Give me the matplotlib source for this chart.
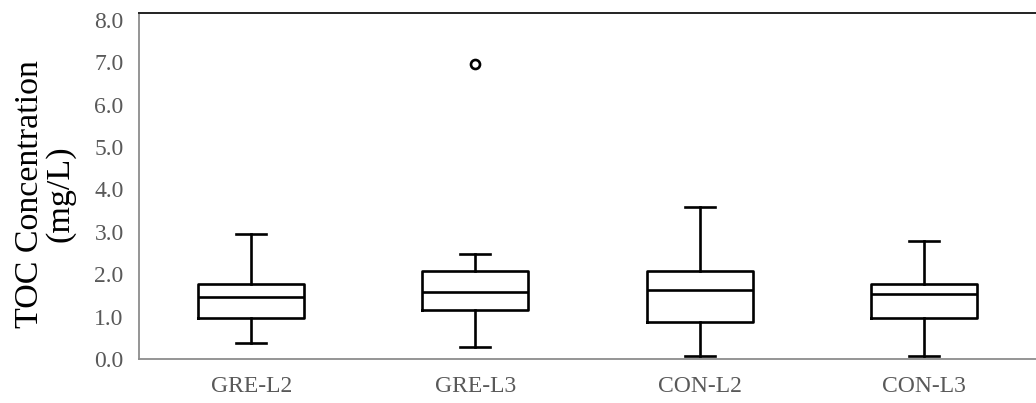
# -*- coding: utf-8 -*-

import matplotlib
matplotlib.use("Agg")
import matplotlib.pyplot as plt

grupos = ["GRE-L2", "GRE-L3", "CON-L2", "CON-L3"]

# resumo de cada caixa (mg/L)
minimo = [0.37, 0.29, 0.08, 0.08]
q1 = [0.97, 1.16, 0.87, 0.96]
mediana = [1.46, 1.58, 1.63, 1.53]
q3 = [1.77, 2.08, 2.08, 1.77]
maximo = [2.95, 2.48, 3.58, 2.78]
outliers = [[], [6.96], [], []]

stats = []
for i in range(len(grupos)):
    stats.append({
        "label": grupos[i],
        "whislo": minimo[i],
        "q1": q1[i],
        "med": mediana[i],
        "q3": q3[i],
        "whishi": maximo[i],
        "fliers": outliers[i],
    })

plt.rcParams["font.family"] = ["Liberation Serif", "DejaVu Serif"]

fig = plt.figure(figsize=(10.36, 4.03), dpi=100)
ax = fig.add_axes([139/1036, 1 - 359/403, 1 - 139/1036, (359 - 13)/403])

lw = 1.9
ax.bxp(stats, positions=[1, 2, 3, 4], widths=0.473, capwidths=0.134,
       boxprops=dict(color="black", linewidth=lw),
       medianprops=dict(color="black", linewidth=lw),
       whiskerprops=dict(color="black", linewidth=lw),
       capprops=dict(color="black", linewidth=lw),
       flierprops=dict(marker="o", markersize=6.5, markerfacecolor="none",
                       markeredgecolor="black", markeredgewidth=1.9))

ax.set_xlim(0.5, 4.5)
ax.set_ylim(0, 8.16)
ax.set_yticks([0, 1, 2, 3, 4, 5, 6, 7, 8])
ax.set_yticklabels(["%.1f" % v for v in range(9)])

ax.tick_params(axis="both", length=0, labelsize=17, labelcolor="#595959")
ax.tick_params(axis="y", pad=11)
ax.tick_params(axis="x", pad=12)

ax.spines["right"].set_visible(False)
ax.spines["top"].set_color("#222222")
ax.spines["top"].set_linewidth(1.4)
ax.spines["left"].set_color("#8c8c8c")
ax.spines["bottom"].set_color("#8c8c8c")
ax.spines["left"].set_linewidth(1.3)
ax.spines["bottom"].set_linewidth(1.3)

ax.set_ylabel("TOC Concentration\n(mg/L)", fontsize=24.5, linespacing=1.0)
ax.yaxis.set_label_coords(-0.071, 0.478)

fig.savefig("out.png", dpi=100)
